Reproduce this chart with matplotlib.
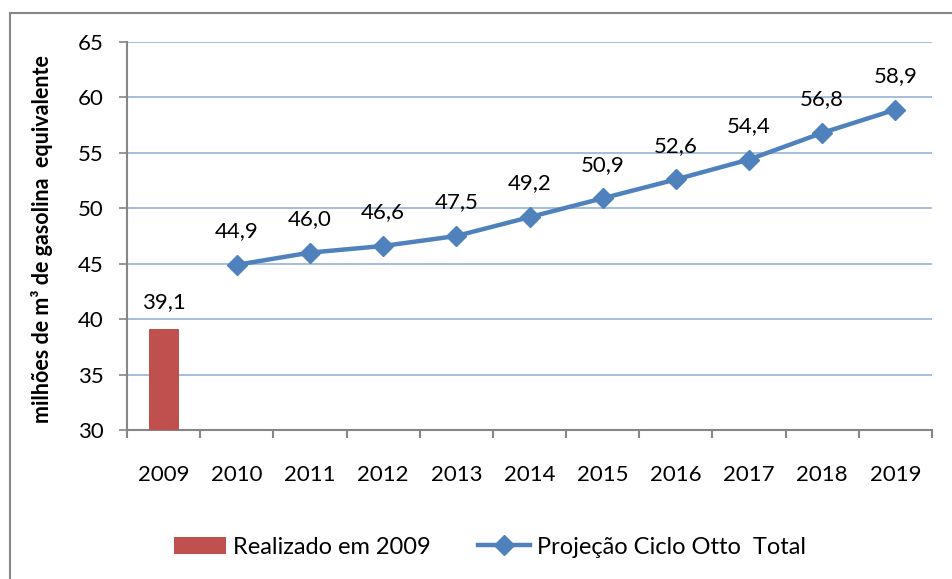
#!/usr/bin/env python3
"""Demanda de combustiveis ciclo Otto: realizado 2009 e projecao 2010-2019."""

import matplotlib
matplotlib.use("Agg")
import matplotlib.pyplot as plt
from matplotlib.patches import Rectangle
from matplotlib.ticker import MultipleLocator, FixedLocator

years = ["2009", "2010", "2011", "2012", "2013", "2014", "2015", "2016", "2017", "2018", "2019"]
realizado = [39.1]
projecao_years = years[1:]
projecao = [44.9, 46.0, 46.6, 47.5, 49.2, 50.9, 52.6, 54.4, 56.8, 58.9]

RED = "#C0504D"
BLUE = "#4F81BD"
GRID = "#95B3D7"
AXIS = "#868686"
FS = 16


def fmt(v):
    return f"{v:.1f}".replace(".", ",")


plt.rcParams["font.family"] = ["Lato", "DejaVu Sans"]

fig = plt.figure(figsize=(9.52, 5.79), dpi=100)
ax = fig.add_axes([127 / 952, 1 - 430 / 579, 805 / 952, 388 / 579])

xpos = {y: i for i, y in enumerate(years)}
bx = [xpos[y] for y in years[:1]]
lx = [xpos[y] for y in projecao_years]

bars = ax.bar(bx, [v - 30 for v in realizado], bottom=30, width=0.41, color=RED,
              label="Realizado em 2009", zorder=3)
line, = ax.plot(lx, projecao, color=BLUE, linewidth=3.2, marker="D", markersize=10.5,
                label="Projeção Ciclo Otto  Total", zorder=4)

for x, v in zip(bx, realizado):
    ax.annotate(fmt(v), (x, v), xytext=(0, 12.5), textcoords="offset points",
                ha="center", va="bottom", fontsize=FS)
for x, v in zip(lx, projecao):
    ax.annotate(fmt(v), (x, v), xytext=(0, 17), textcoords="offset points",
                ha="center", va="bottom", fontsize=FS)

ax.set_xlim(-0.5, len(years) - 0.5)
ax.set_ylim(30, 65)
ax.yaxis.set_major_locator(MultipleLocator(5))
ax.grid(axis="y", color=GRID, linewidth=1.2, zorder=0)
ax.set_axisbelow(True)

ax.set_xticks(range(len(years)))
ax.set_xticklabels(years, fontsize=FS)
ax.xaxis.set_minor_locator(FixedLocator([i - 0.5 for i in range(len(years) + 1)]))
ax.tick_params(axis="x", which="major", length=0, pad=25)
ax.tick_params(axis="x", which="minor", length=6, width=1.5, color=AXIS)
ax.tick_params(axis="y", length=6, width=1.2, color=AXIS, labelsize=FS, pad=11)

for side in ("top", "right"):
    ax.spines[side].set_visible(False)
for side in ("left", "bottom"):
    ax.spines[side].set_color(AXIS)
    ax.spines[side].set_linewidth(1.5)

fig.text(42 / 952, 1 - 239 / 579, "milhões de m³ de gasolina  equivalente",
         rotation=90, ha="center", va="center", fontsize=15.5, fontweight="bold")

fig.legend([bars, line], [bars.get_label(), line.get_label()],
           loc="center", bbox_to_anchor=(490 / 952, 1 - 547 / 579), ncol=2, frameon=False,
           fontsize=17, handlelength=2.2, handleheight=0.75, columnspacing=2.0,
           handletextpad=0.3)

fig.patches.append(Rectangle((10 / 952, -0.1), 1.2, 1 - 13 / 579 + 0.1,
                             transform=fig.transFigure, fill=False,
                             edgecolor=AXIS, linewidth=1.5))

fig.savefig("out.png", dpi=100)
